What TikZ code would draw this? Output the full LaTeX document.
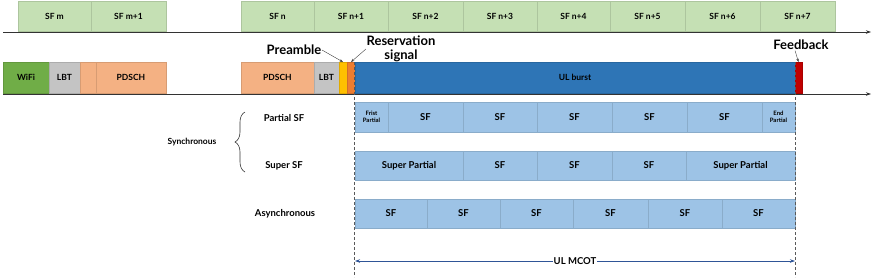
\documentclass[tikz,border=0pt]{standalone}
\usepackage{fontspec}
\setmainfont{Lato}
\usetikzlibrary{arrows.meta,shadows,decorations.pathreplacing}
\definecolor{sfgreen}{HTML}{C5E0B4}
\definecolor{wifigreen}{HTML}{70AD47}
\definecolor{lbtgray}{HTML}{C4C4C4}
\definecolor{pdschor}{HTML}{F4B183}
\definecolor{preyel}{HTML}{FFC000}
\definecolor{resor}{HTML}{ED7D31}
\definecolor{ulblue}{HTML}{2E75B6}
\definecolor{fbred}{HTML}{C00000}
\definecolor{sfblue}{HTML}{9DC3E6}
\definecolor{mcot}{HTML}{2F5597}
\newcommand\mybox[7]{%
  \node[#6, minimum width={(#3-#2)*1pt}, minimum height={(#5-#4)*1pt}] (#1) at ({(#2+#3)/2},{(#4+#5)/2}) {#7};}
\begin{document}
\begin{tikzpicture}[x=1pt,y=-1pt,
  font=\bfseries\fontsize{8.5}{9.5}\selectfont,
  box/.style={inner sep=0pt, outer sep=0pt, draw=#1!88!black, line width=0.3pt, fill=#1,
    drop shadow={shadow xshift=1.3pt, shadow yshift=-1.3pt, opacity=0.18}},
  bbox/.style={box=sfblue, font=\bfseries\fontsize{9.5}{10.5}\selectfont},
  small/.style={font=\bfseries\fontsize{6}{7}\selectfont, align=center},
  lbl/.style={font=\bfseries\fontsize{13}{14}\selectfont, inner sep=0.5pt, align=center},
  side/.style={font=\bfseries\fontsize{9.5}{10.5}\selectfont},
  axis/.style={line width=0.7pt, black!80, -{Stealth[length=5pt,width=3.5pt]}},
  call/.style={line width=0.4pt, black!75, -{Stealth[length=3.5pt,width=2.5pt]}},
  guide/.style={dashed, dash pattern=on 3pt off 2pt, line width=0.5pt, black!65}]
\useasboundingbox (0,0) rectangle (872,277);

% top subframe row
\mybox{sfm}{18}{91}{1}{31}{box=sfgreen}{SF m}
\mybox{sfm1}{91}{166}{1}{31}{box=sfgreen}{SF m+1}
\mybox{sfn}{241}{314}{1}{31}{box=sfgreen}{SF n}
\mybox{sfn1}{314}{388}{1}{31}{box=sfgreen}{SF n+1}
\mybox{sfn2}{388}{463}{1}{31}{box=sfgreen}{SF n+2}
\mybox{sfn3}{463}{537}{1}{31}{box=sfgreen}{SF n+3}
\mybox{sfn4}{537}{610}{1}{31}{box=sfgreen}{SF n+4}
\mybox{sfn5}{610}{685}{1}{31}{box=sfgreen}{SF n+5}
\mybox{sfn6}{685}{760}{1}{31}{box=sfgreen}{SF n+6}
\mybox{sfn7}{760}{835}{1}{31}{box=sfgreen}{SF n+7}
\coordinate (a1s) at (3,32);
\coordinate (a1e) at (871,32);
\draw[axis] (a1s) -- (a1e);

% channel row
\mybox{wifi}{3}{49}{62}{93}{box=wifigreen}{WiFi}
\mybox{lbt1}{49}{80}{62}{93}{box=lbtgray}{LBT}
\mybox{or1}{80}{96}{62}{93}{box=pdschor}{}
\mybox{pd1}{96}{166}{62}{93}{box=pdschor}{PDSCH}
\mybox{pd2}{241}{314}{62}{93}{box=pdschor}{PDSCH}
\mybox{lbt2}{314}{339}{62}{93}{box=lbtgray}{LBT}
\mybox{pre}{339}{347}{62}{93}{box=preyel}{}
\mybox{res}{347}{355}{62}{93}{box=resor}{}
\mybox{ul}{355}{795}{62}{93}{box=ulblue}{UL burst}
\mybox{fb}{795}{802}{62}{93}{box=fbred}{}
\coordinate (a2s) at (3,94);
\coordinate (a2e) at (871,94);
\draw[axis] (a2s) -- (a2e);

% callouts
\node[lbl] (lpre) at (294,50) {Preamble};
\draw[call] (lpre.east) -- (pre.north);
\node[lbl] (lres) at (401,49) {Reservation\\signal};
\draw[call] (lres.west) -- (res.north);
\node[lbl] (lfb) at (801,45) {Feedback};
\draw[call] ([xshift=-6pt]lfb.south) -- (fb.north);

% partial SF row
\mybox{p0}{355}{388}{102}{132}{bbox,small}{Frist\\Partial}
\mybox{p1}{388}{463}{102}{132}{bbox}{SF}
\mybox{p2}{463}{537}{102}{132}{bbox}{SF}
\mybox{p3}{537}{612}{102}{132}{bbox}{SF}
\mybox{p4}{612}{687}{102}{132}{bbox}{SF}
\mybox{p5}{687}{762}{102}{132}{bbox}{SF}
\mybox{p6}{762}{795}{102}{132}{bbox,small}{End\\Partial}

% super SF row
\mybox{s0}{355}{463}{151}{180}{bbox}{Super Partial}
\mybox{s1}{463}{537}{151}{180}{bbox}{SF}
\mybox{s2}{537}{612}{151}{180}{bbox}{SF}
\mybox{s3}{612}{686}{151}{180}{bbox}{SF}
\mybox{s4}{686}{795}{151}{180}{bbox}{Super Partial}

% asynchronous row
\mybox{q0}{355}{427}{199}{228}{bbox}{SF}
\mybox{q1}{427}{500}{199}{228}{bbox}{SF}
\mybox{q2}{500}{573}{199}{228}{bbox}{SF}
\mybox{q3}{573}{648}{199}{228}{bbox}{SF}
\mybox{q4}{648}{722}{199}{228}{bbox}{SF}
\mybox{q5}{722}{795}{199}{228}{bbox}{SF}

% side labels
\node[side] (lpsf) at (284,118) {Partial SF};
\node[side] (lssf) at (284,166) {Super SF};
\node[side, font=\bfseries\fontsize{8.5}{9.5}\selectfont] (lsync) at (192,142) {Synchronous};
\node[side] (lasync) at (285,214) {Asynchronous};
\coordinate (br1) at (245,172);
\coordinate (br2) at (245,112);
\draw[line width=0.6pt, black!80, decorate, decoration={brace, amplitude=10pt}] (br1) -- (br2);

% guides
\coordinate (g1t) at (354.5,62);
\coordinate (g1b) at (354.5,277);
\coordinate (g2t) at (795,62);
\coordinate (g2b) at (795,277);
\draw[guide] (g1t) -- (g1b);
\draw[guide] (g2t) -- (g2b);

% UL MCOT
\coordinate (m1) at (355,261);
\coordinate (m2) at (795,261);
\draw[line width=0.7pt, mcot, {Stealth[length=5pt,width=3.5pt]}-{Stealth[length=5pt,width=3.5pt]}] (m1) -- node[fill=white, inner sep=1pt, text=black, font=\bfseries\fontsize{9.5}{10.5}\selectfont] (mlbl) {UL MCOT} (m2);
\end{tikzpicture}
\end{document}
